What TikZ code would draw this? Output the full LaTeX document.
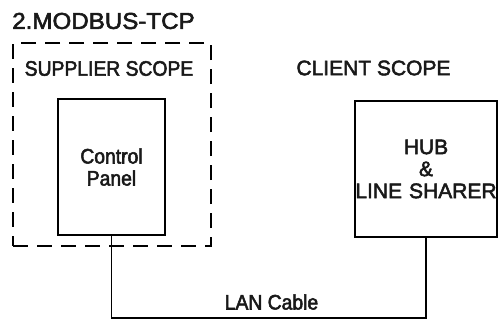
\documentclass[tikz,border=0pt]{standalone}
\usepackage{fontspec}
\setmainfont{Liberation Sans}[FakeBold=2.5]
\newfontfamily\narrowfont{Liberation Sans}[FakeStretch=0.92, FakeBold=2.5]
\newfontfamily\widefont{Liberation Sans}[FakeStretch=1.05, FakeBold=2.5]
\usepackage{tikz}
\usepackage{xcolor}

\begin{document}
\begin{tikzpicture}[x=1pt, y=-1pt,
  label text/.style={font=\fontsize{21}{22}\selectfont, text=black!90},
  unit box/.style={draw, line width=1.6pt, inner sep=0pt, align=center,
    minimum height=136pt, label text},
  scope box/.style={draw, line width=1.6pt, dash pattern=on 15pt off 9pt,
    minimum width=198pt, minimum height=203pt, inner sep=0pt}]
  \useasboundingbox (0,0) rectangle (498,322);

  \node[label text] at (103.5,21) (title) {\fontsize{23}{24}\widefont 2.MODBUS-TCP};
  \node[scope box] at (112,144.5) (supplier) {};
  \node[label text] at (109,68.5) (supplierlbl) {\narrowfont SUPPLIER SCOPE};
  \node[label text] at (373.5,68) (clientlbl) {CLIENT SCOPE};

  \node[unit box, minimum width=107pt, font=\fontsize{21}{22}\narrowfont]
    at (111.5,167) (panel) {Control\\Panel};
  \node[unit box, minimum width=142pt, text width=142pt] at (426,169) (hub)
    {HUB\\\&\\LINE SHARER};

  \coordinate (bend) at (426,318);
  \draw[line width=1.6pt] (panel.south) |- (bend) -- (hub.south);
  \node[label text] at (271.5,302) (cable) {\narrowfont LAN Cable};
\end{tikzpicture}
\end{document}
